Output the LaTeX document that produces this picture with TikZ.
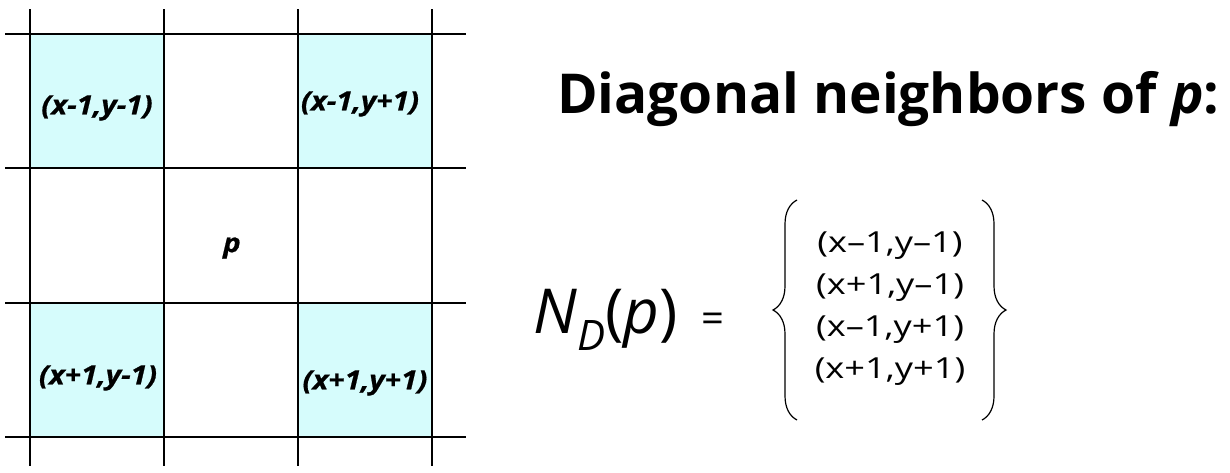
\documentclass[tikz,border=0pt]{standalone}
\usepackage{fontspec}
\setmainfont{Open Sans}
\newfontfamily\setfont[FakeStretch=1.25]{Open Sans}
\newfontfamily\labelfont[FakeStretch=1.12,FakeBold=0.6]{Open Sans}
\usetikzlibrary{decorations.pathreplacing}
\definecolor{cellcyan}{RGB}{214,252,252}
\begin{document}
\begin{tikzpicture}[x=1pt,y=-1pt,
  gridline/.style={line width=1.4pt, black},
  cellfill/.style={fill=cellcyan},
  celllabel/.style={font=\labelfont\fontsize{26.5}{30}\selectfont\bfseries\itshape, inner sep=0},
  setitem/.style={font=\setfont\fontsize{29}{32}\selectfont, inner sep=0},
  bracestyle/.style={decorate, decoration={brace, amplitude=24pt}, line width=1.2pt}]
\useasboundingbox (0,0) rectangle (1230,472);
% shaded diagonal cells
\fill[cellfill] (30,34) rectangle (164,168);
\fill[cellfill] (298,34) rectangle (432,168);
\fill[cellfill] (30,303) rectangle (164,437);
\fill[cellfill] (298,303) rectangle (432,437);
% grid
\foreach \x in {30,164,298,432} \draw[gridline] (\x,9) -- (\x,466);
\foreach \y in {34,168,303,437} \draw[gridline] (5,\y) -- (466,\y);
% cell labels
\node[celllabel] (a) at (97,108) {(x-1,y-1)};
\node[celllabel] (b) at (360,104) {(x-1,y+1)};
\node[celllabel] (c) at (98,378) {(x+1,y-1)};
\node[celllabel] (d) at (365,383) {(x+1,y+1)};
\node[celllabel] (p) at (232,248) {p};
% title
\node[anchor=base west, inner sep=0, font=\fontsize{55}{60}\selectfont\bfseries] (title) at (557,113) {Diagonal neighbors of \textit{p}:};
% formula
\node[anchor=base west, inner sep=0, font=\fontsize{62}{62}\selectfont] (nd) at (533,333)
  {\textit{N}\raisebox{-17pt}{\fontsize{42}{42}\selectfont\textit{D}}(\textit{p})};
\node[anchor=center, inner sep=0, font=\fontsize{40}{40}\selectfont] (eq) at (713,323) {=};
\node[setitem] (s1) at (890,246) {(x–1,y–1)};
\node[setitem] (s2) at (890,288) {(x+1,y–1)};
\node[setitem] (s3) at (890,330) {(x–1,y+1)};
\node[setitem] (s4) at (890,372) {(x+1,y+1)};
% braces
\coordinate (lb1) at (797,420);
\coordinate (lb2) at (797,200);
\coordinate (rb1) at (982,200);
\coordinate (rb2) at (982,420);
\draw[bracestyle] (lb1) -- (lb2);
\draw[bracestyle] (rb1) -- (rb2);
\end{tikzpicture}
\end{document}
